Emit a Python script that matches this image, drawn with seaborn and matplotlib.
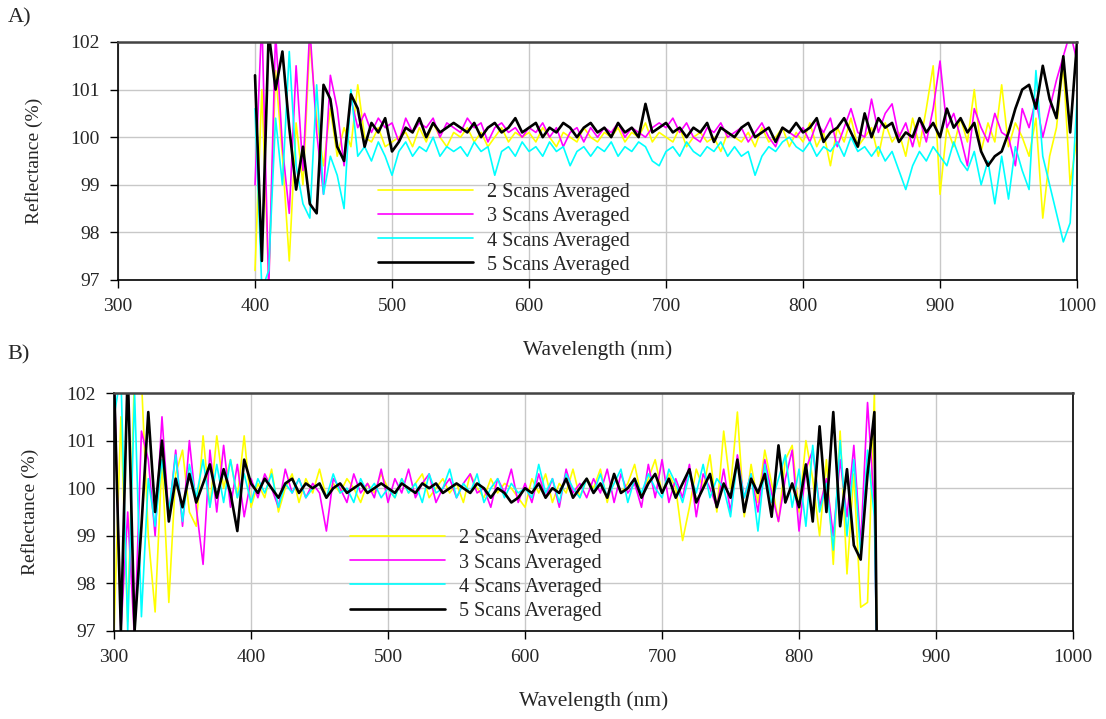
import numpy as np
import pandas as pd
import matplotlib
matplotlib.use("Agg")
import matplotlib.pyplot as plt
import seaborn as sns

# ---------------- data (reflectance, %) ----------------
labels = ['2 Scans Averaged', '3 Scans Averaged', '4 Scans Averaged', '5 Scans Averaged']
colors = ['#ffff00', '#ff00ff', '#00ffff', '#000000']
widths = [1.2, 1.2, 1.2, 1.9]

# panel A: 400 - 1000 nm, 5 nm step
wl_a = list(range(400, 1001, 5))
a_2scan = [97.2, 101.0, 97.0, 101.4, 99.6, 97.4, 100.3, 99.0, 102.0, 100.4,
           99.4, 100.6, 99.6, 100.2, 99.8, 101.1, 100.0, 99.9, 100.2, 99.8,
           99.9, 100.0, 100.1, 99.8, 100.2, 99.9, 100.3, 100.0, 99.8, 100.1,
           100.0, 100.2, 99.9, 100.1, 99.8, 100.0, 100.2, 99.9, 100.1, 100.0,
           100.1, 99.9, 100.2, 100.0, 99.8, 100.1, 100.0, 99.9, 100.2, 100.0,
           99.9, 100.1, 100.0, 100.2, 99.9, 100.1, 100.0, 100.3, 99.9, 100.1,
           100.0, 99.9, 100.2, 99.8, 100.0, 100.1, 99.9, 100.0, 99.7, 100.1,
           100.0, 99.9, 100.1, 99.8, 100.2, 99.9, 100.0, 100.2, 99.8, 100.1,
           99.9, 100.3, 99.8, 100.1, 99.4, 100.2, 99.9, 100.4, 99.8, 100.0,
           100.2, 99.6, 100.3, 99.9, 100.1, 99.6, 100.4, 99.8, 100.6, 101.5,
           98.8, 100.2, 99.8, 100.4, 99.9, 101.0, 99.7, 100.3, 99.9, 101.1,
           99.8, 100.3, 100.0, 99.6, 100.4, 98.3, 99.6, 100.2, 101.5, 99.0,
           100.0]
a_3scan = [99.0, 102.5, 96.8, 102.2, 99.8, 98.4, 101.5, 99.3, 102.3, 100.1,
           98.8, 101.3, 100.6, 99.4, 100.8, 100.2, 100.5, 100.1, 100.4, 100.2,
           100.3, 99.9, 100.4, 100.1, 100.3, 100.2, 100.4, 100.0, 100.3, 100.2,
           100.1, 100.4, 100.2, 100.3, 99.9, 100.2, 100.3, 100.1, 100.2, 100.0,
           100.2, 100.1, 100.3, 100.0, 100.2, 99.8, 100.1, 100.2, 99.9, 100.2,
           100.0, 100.2, 100.1, 100.3, 100.0, 100.2, 100.1, 100.0, 100.2, 100.3,
           100.2, 100.4, 100.1, 100.3, 100.0, 99.9, 100.2, 100.1, 100.3, 100.0,
           100.1, 100.2, 99.9, 100.1, 100.3, 100.0, 99.8, 100.2, 100.1, 100.0,
           100.2, 99.9, 100.3, 100.1, 100.4, 99.8, 100.2, 100.6, 100.1, 100.0,
           100.8, 100.1, 100.5, 100.7, 100.0, 100.3, 99.8, 100.4, 99.9, 100.6,
           101.6, 100.2, 100.5, 100.0, 99.4, 100.6, 100.2, 99.9, 100.5, 100.1,
           100.0, 99.4, 100.6, 100.2, 100.8, 100.0, 100.6, 101.2, 101.7, 102.2,
           101.6]
a_4scan = [100.6, 96.8, 97.2, 100.4, 99.0, 101.8, 99.4, 98.6, 98.3, 101.1,
           98.8, 99.6, 99.2, 98.5, 101.0, 99.6, 99.8, 99.5, 99.9, 99.6,
           99.2, 99.7, 99.9, 99.6, 99.8, 99.7, 100.0, 99.6, 99.8, 99.7,
           99.8, 99.6, 99.9, 99.7, 99.8, 99.2, 99.7, 99.8, 99.6, 99.9,
           99.7, 99.8, 99.6, 99.9, 99.7, 99.8, 99.4, 99.7, 99.8, 99.6,
           99.8, 99.7, 99.9, 99.6, 99.8, 99.7, 99.9, 99.8, 99.5, 99.4,
           99.7, 99.8, 99.6, 99.9, 99.7, 99.6, 99.8, 99.7, 99.9, 99.6,
           99.8, 99.6, 99.7, 99.2, 99.6, 99.8, 99.7, 99.9, 100.0, 99.8,
           99.7, 99.9, 99.6, 99.8, 99.7, 99.9, 99.6, 100.0, 99.7, 99.8,
           99.6, 99.8, 99.5, 99.7, 99.3, 98.9, 99.4, 99.7, 99.5, 99.8,
           99.6, 99.4, 99.9, 99.5, 99.3, 99.7, 99.0, 99.5, 98.6, 99.6,
           98.7, 99.8, 99.3, 98.9, 101.4, 99.6, 99.0, 98.4, 97.8, 98.2,
           100.8]
a_5scan = [101.3, 97.4, 102.2, 101.0, 101.8, 100.2, 98.9, 99.8, 98.6, 98.4,
           101.1, 100.8, 99.8, 99.5, 100.9, 100.6, 99.8, 100.3, 100.1, 100.4,
           99.7, 99.9, 100.2, 100.1, 100.4, 100.0, 100.3, 100.1, 100.2, 100.3,
           100.2, 100.1, 100.3, 100.0, 100.2, 100.3, 100.1, 100.2, 100.4, 100.1,
           100.2, 100.3, 100.0, 100.2, 100.1, 100.3, 100.2, 100.0, 100.2, 100.3,
           100.1, 100.2, 100.0, 100.3, 100.1, 100.2, 100.0, 100.7, 100.1, 100.2,
           100.3, 100.1, 100.2, 100.0, 100.2, 100.1, 100.3, 99.9, 100.2, 100.1,
           100.0, 100.2, 100.3, 100.0, 100.1, 100.2, 99.9, 100.2, 100.1, 100.3,
           100.1, 100.2, 100.4, 99.9, 100.1, 100.2, 100.4, 100.1, 99.8, 100.5,
           100.0, 100.4, 100.2, 100.3, 99.9, 100.1, 100.0, 100.4, 100.1, 100.3,
           100.0, 100.6, 100.2, 100.4, 100.1, 100.3, 99.7, 99.4, 99.6, 99.7,
           100.1, 100.6, 101.0, 101.1, 100.6, 101.5, 100.8, 100.4, 101.7, 100.1,
           102.0]

# panel B: 300 - 855 nm, 5 nm step, signal drops out at 857 nm
wl_b = list(range(300, 856, 5)) + [857]
b_2scan = [97.0, 101.5, 97.2, 102.5, 102.3, 99.0, 97.4, 100.6, 97.6, 100.3,
           100.8, 99.5, 99.2, 101.1, 99.6, 101.1, 100.0, 100.6, 99.8, 101.1,
           99.6, 100.1, 99.8, 100.4, 99.5, 100.0, 100.3, 99.7, 100.2, 99.9,
           100.4, 99.8, 100.1, 99.9, 100.2, 100.0, 99.7, 100.1, 99.9, 100.3,
           100.0, 99.8, 100.2, 99.9, 100.1, 100.3, 99.8, 100.0, 100.2, 99.9,
           100.1, 99.7, 100.3, 100.0, 99.8, 100.2, 99.9, 100.1, 100.0, 99.8,
           99.6, 100.2, 99.9, 100.3, 99.7, 100.1, 99.9, 100.4, 99.8, 100.2,
           100.0, 100.4, 99.7, 100.3, 99.9, 100.1, 100.5, 99.8, 100.2, 100.6,
           99.9, 100.3, 100.0, 98.9, 99.6, 100.4, 100.0, 100.7, 99.5, 101.2,
           100.0, 101.6, 99.4, 100.5, 99.7, 100.8, 100.1, 99.3, 100.6, 100.9,
           99.5, 101.0, 100.2, 99.0, 100.6, 98.4, 101.2, 98.2, 100.3, 97.5,
           97.6, 102.0, 96.0]
b_3scan = [102.5, 97.0, 99.5, 96.8, 101.2, 100.6, 99.0, 101.5, 99.4, 100.8,
           99.2, 101.0, 99.6, 98.4, 100.8, 99.5, 100.9, 99.6, 100.5, 99.4,
           100.2, 99.8, 100.3, 100.0, 99.6, 100.4, 99.9, 100.2, 99.8, 100.1,
           99.9, 99.1, 100.2, 100.0, 99.7, 100.3, 99.9, 100.1, 99.8, 100.4,
           99.7, 100.2, 99.9, 100.4, 99.8, 100.1, 100.3, 99.7, 100.0, 100.2,
           99.8, 100.1, 100.3, 99.9, 100.0, 99.6, 100.2, 99.9, 100.4, 99.7,
           100.1, 99.7, 100.3, 99.8, 100.2, 99.6, 100.4, 99.9, 100.1, 99.8,
           100.2, 99.9, 100.4, 99.7, 100.3, 99.9, 100.1, 99.6, 100.5, 99.8,
           100.6, 99.7, 100.2, 99.8, 100.5, 99.4, 100.3, 100.0, 99.6, 100.4,
           99.5, 100.7, 99.8, 100.3, 99.5, 100.6, 99.9, 99.3, 100.2, 100.8,
           99.1, 100.4, 100.8, 99.6, 100.2, 99.0, 100.6, 99.4, 100.9, 98.8,
           101.8, 99.6, 96.0]
b_4scan = [101.5, 102.4, 97.0, 102.0, 97.3, 100.2, 99.2, 100.6, 99.5, 100.7,
           99.3, 100.5, 99.8, 100.6, 99.6, 100.5, 99.7, 100.6, 99.8, 100.3,
           99.7, 100.2, 99.9, 100.3, 99.6, 100.1, 99.9, 100.2, 99.8, 100.0,
           100.1, 99.8, 100.3, 99.9, 100.0, 99.7, 100.2, 99.9, 100.1, 99.8,
           100.0, 99.8, 100.2, 99.9, 100.1, 99.7, 100.3, 99.9, 100.0, 100.4,
           99.8, 100.1, 99.9, 100.3, 99.7, 100.0, 100.2, 99.8, 100.1, 99.9,
           100.0, 99.8, 100.5, 99.9, 100.2, 99.7, 100.3, 100.0, 99.8, 100.2,
           99.9, 100.3, 99.8, 100.1, 100.4, 99.7, 100.2, 99.9, 100.3, 100.0,
           99.8, 100.4, 100.1, 99.7, 100.3, 99.9, 100.5, 99.8, 100.2, 100.0,
           99.4, 100.6, 99.8, 100.3, 99.1, 100.5, 99.7, 100.2, 100.7, 99.6,
           100.4, 99.2, 100.9, 99.5, 100.1, 98.7, 101.0, 99.0, 100.6, 98.6,
           100.8, 99.4, 96.0]
b_5scan = [102.3, 97.0, 102.5, 97.0, 99.2, 101.6, 99.5, 101.0, 99.3, 100.2,
           99.6, 100.3, 99.7, 100.1, 100.5, 99.8, 100.4, 99.9, 99.1, 100.6,
           100.1, 99.9, 100.2, 100.0, 99.8, 100.1, 100.2, 99.9, 100.1, 100.0,
           100.1, 99.8, 100.0, 100.1, 99.9, 100.0, 100.1, 99.9, 100.0, 100.1,
           100.0, 99.9, 100.1, 100.0, 99.9, 100.1, 100.0, 100.1, 99.9, 100.0,
           100.1, 100.0, 99.9, 100.1, 100.0, 99.8, 100.0, 99.9, 99.7, 99.8,
           100.0, 99.9, 100.1, 99.8, 100.0, 99.9, 100.2, 99.8, 100.0, 100.2,
           99.9, 100.1, 99.8, 100.3, 99.9, 100.0, 100.2, 99.8, 100.1, 100.3,
           99.9, 100.2, 99.8, 100.1, 100.4, 99.7, 100.0, 100.3, 99.6, 100.1,
           99.8, 100.6, 99.5, 100.2, 99.9, 100.3, 99.4, 100.9, 99.7, 100.1,
           99.6, 100.5, 99.3, 101.3, 99.5, 101.6, 99.2, 100.4, 98.8, 98.5,
           100.3, 101.6, 96.0]

x_ticks = [300, 400, 500, 600, 700, 800, 900, 1000]
y_ticks = [97, 98, 99, 100, 101, 102]

# ---------------- style ----------------
sns.set_theme(style="whitegrid")
plt.rcParams['font.family'] = ['Liberation Serif', 'DejaVu Serif']
plt.rcParams['axes.unicode_minus'] = False

fig = plt.figure(figsize=(11.06, 7.19), dpi=100)
ax_a = fig.add_axes([0.1067, 0.6106, 0.8671, 0.3310])
ax_b = fig.add_axes([0.1031, 0.1224, 0.8671, 0.3310])


def draw_panel(ax, wl, series, leg_anchor):
    for vals, lab, c, lw in zip(series, labels, colors, widths):
        sns.lineplot(x=wl, y=vals, color=c, lw=lw, label=lab, ax=ax,
                     estimator=None, sort=False)
    ax.set_xlim(300, 1000)
    ax.set_ylim(97, 102)
    ax.set_xticks(x_ticks)
    ax.set_yticks(y_ticks)
    ax.set_facecolor('white')
    ax.grid(True, color='#c8c8c8', lw=1.0)
    for sp in ax.spines.values():
        sp.set_visible(True)
        sp.set_color('black')
        sp.set_linewidth(1.2)
    ax.spines['top'].set_color('#444444')
    ax.spines['top'].set_linewidth(1.8)
    ax.tick_params(axis='both', direction='out', length=6, width=1.0,
                   color='black', labelsize=14, pad=7, bottom=True, left=True)
    ax.set_xlabel('Wavelength (nm)', fontsize=15.5, labelpad=18)
    ax.set_ylabel('Reflectance (%)', fontsize=14, labelpad=20)
    ax.legend(loc='upper left', bbox_to_anchor=leg_anchor, frameon=False,
              fontsize=14.5, handlelength=4.7, handletextpad=0.7,
              labelspacing=0.245, borderpad=0, borderaxespad=0)


draw_panel(ax_a, wl_a, [a_2scan, a_3scan, a_4scan, a_5scan], (0.271, 0.406))
draw_panel(ax_b, wl_b, [b_2scan, b_3scan, b_4scan, b_5scan], (0.246, 0.427))

fig.text(0.007, 0.975, 'A)', fontsize=16, va='center', ha='left')
fig.text(0.007, 0.506, 'B)', fontsize=16, va='center', ha='left')

fig.savefig('out.png', dpi=100)
